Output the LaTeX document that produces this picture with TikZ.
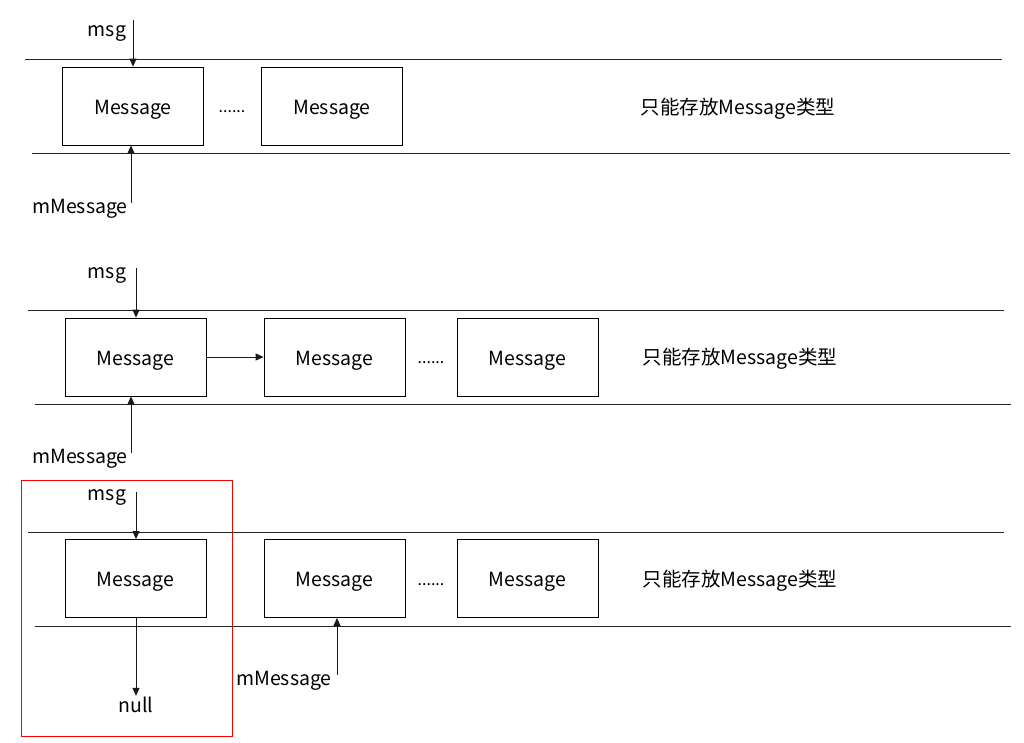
\documentclass[tikz,border=0pt]{standalone}
\usepackage{fontspec}
\setmainfont{Noto Sans CJK SC}
\usetikzlibrary{arrows.meta}

\begin{document}
\begin{tikzpicture}[x=1pt, y=-1pt,
          mb/.style={rectangle, draw, line width=0.8pt, minimum width=141pt,
                     minimum height=78pt, inner sep=0pt, text height=16pt, text depth=0pt,
                     font=\fontsize{19.5}{22}\selectfont},
          lbl/.style={inner sep=1pt, text height=12pt, text depth=0pt,
                      font=\fontsize{19.5}{22}\selectfont},
          dots/.style={inner sep=1pt, font=\fontsize{16}{18}\selectfont},
          arr/.style={-{Triangle[length=8pt, width=7pt]}, draw=black!90, line width=0.8pt},
          rail/.style={draw=black!85, line width=0.8pt}
        ]
        \useasboundingbox[fill=white] (0,0) rectangle (1024,742);

        % queue 1
        \draw[rail] (25,59) -- (1002,59);
        \draw[rail] (32,153) -- (1010,153);
        \node[mb]  (m11) at (133,106) {Message};
        \node[mb]  (m12) at (332,106) {Message};
        \node[dots] (d1) at (232,112) {......};
        \node[lbl] (t1)  at (738,108) {只能存放Message类型};
        \node[lbl] (msg1) at (107,30) {msg};
        \node[lbl] (mm1)  at (80,207) {mMessage};
        \coordinate (s1) at (133,20);
        \coordinate (p1) at (131,203);
        \draw[arr] (s1) -- (m11.north -| s1);
        \draw[arr] (p1) -- (m11.south -| p1);

        % queue 2
        \draw[rail] (28,310) -- (1004,310);
        \draw[rail] (35,404) -- (1011,404);
        \node[mb]  (m21) at (135.5,357) {Message};
        \node[mb]  (m22) at (334.5,357) {Message};
        \node[mb]  (m23) at (527.5,357) {Message};
        \node[dots] (d2) at (431,363) {......};
        \node[lbl] (t2)  at (740,358) {只能存放Message类型};
        \node[lbl] (msg2) at (107,272) {msg};
        \node[lbl] (mm2)  at (80,457) {mMessage};
        \coordinate (s2) at (136,268);
        \coordinate (p2) at (131,453);
        \draw[arr] (s2) -- (m21.north -| s2);
        \draw[arr] (p2) -- (m21.south -| p2);
        \draw[arr] (m21) -- (m22);

        % queue 3
        \draw[red, line width=0.8pt] (21,480) rectangle (232,736);
        \draw[rail] (28,532) -- (1004,532);
        \draw[rail] (35,626) -- (1011,626);
        \node[mb]  (m31) at (135.5,578.5) {Message};
        \node[mb]  (m32) at (334.5,578.5) {Message};
        \node[mb]  (m33) at (527.5,578.5) {Message};
        \node[dots] (d3) at (431,585) {......};
        \node[lbl] (t3)  at (740,580) {只能存放Message类型};
        \node[lbl] (msg3) at (107,494) {msg};
        \node[lbl] (mm3)  at (284,679) {mMessage};
        \node[lbl, inner sep=4pt] (nul) at (136,706) {null};
        \coordinate (s3) at (136,492);
        \coordinate (p3) at (337,675);
        \draw[arr] (s3) -- (m31.north -| s3);
        \draw[arr] (p3) -- (m32.south -| p3);
        \draw[arr] (m31.south -| nul) -- (nul.north);
      \end{tikzpicture}
\end{document}
